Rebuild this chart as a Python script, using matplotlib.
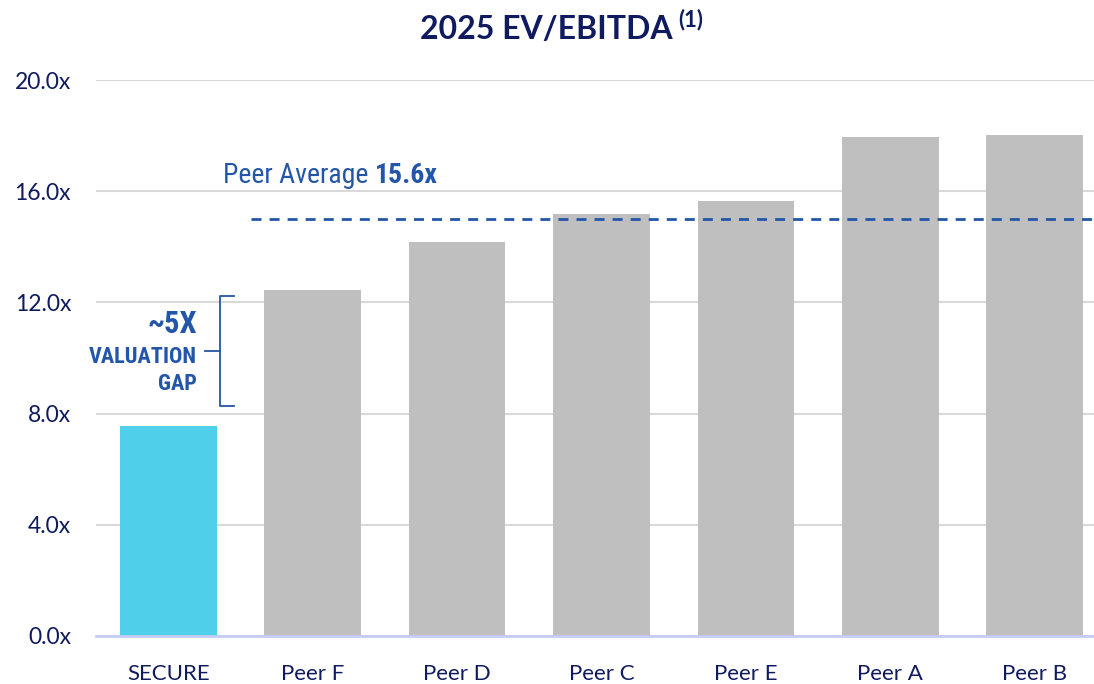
import os
import matplotlib.pyplot as plt
from matplotlib import font_manager
from matplotlib.font_manager import FontProperties

#Data
names = ["SECURE", "Peer F", "Peer D", "Peer C", "Peer E", "Peer A", "Peer B"]
multiples = [7.55, 12.45, 14.17, 15.18, 15.65, 17.95, 18.02]
avg_line = 15.0
avg_label = "15.6x"
gap_low = 8.27
gap_high = 12.23
yticks = [0, 4, 8, 12, 16, 20]

navy = "#0f1b5e"
blue = "#2356a8"
cyan = "#4fcfea"
grey = "#bfbfbf"

#Find a narrow font file if one is installed
files = [f.fname for f in font_manager.fontManager.ttflist]

def pick(options, fallback_weight):
    for opt in options:
        for fn in files:
            if os.path.basename(fn).lower().startswith(opt):
                return FontProperties(fname=fn)
    return FontProperties(family="DejaVu Sans", weight=fallback_weight)

narrow_bold = pick(["notosans-extracondensedbold.", "notosans-condensedbold.",
                    "robotocondensed-bold.", "dejavusanscondensed-bold.",
                    "liberationsansnarrow-bold."], "bold")
narrow_reg = pick(["notosans-extracondensedmedium.", "notosans-extracondensed.",
                   "notosans-condensedmedium.", "notosans-condensed.",
                   "robotocondensed-regular.", "dejavusanscondensed.",
                   "liberationsansnarrow-regular."], "normal")

fig = plt.figure(figsize=(10.94, 6.84), dpi=100)
ax = fig.add_axes([0.0878, 0.0702, 0.9122, 0.8128])

colors = [cyan] + [grey] * (len(names) - 1)
x = list(range(len(names)))
ax.bar(x, multiples, width=0.67, color=colors, zorder=3)

ax.set_xlim(-0.5, 6.41)
ax.set_ylim(0, 20)
ax.set_yticks(yticks)
ax.set_yticklabels([f"{v:.1f}x" for v in yticks], fontsize=16.5, color=navy, family="Lato")
ax.set_xticks(x)
ax.set_xticklabels(names, fontsize=16, color=navy, family="Lato")
ax.tick_params(axis="x", length=0, pad=20)
ax.tick_params(axis="y", length=0, pad=18)
ax.grid(axis="y", color="#d9d9d9", linewidth=1.5, zorder=0)
for s in ["top", "right", "left"]:
    ax.spines[s].set_visible(False)
ax.spines["bottom"].set_color("#c5ccf5")
ax.spines["bottom"].set_linewidth(2)
ax.spines["bottom"].set_zorder(4)

#Peer average line
ax.plot([0.57, 6.41], [avg_line, avg_line], color=blue, linestyle=(0, (3.6, 2.9)),
        linewidth=2, zorder=5, clip_on=False)
p1 = narrow_reg.copy()
p1.set_size(20)
t = ax.text(0.38, 16.67, "Peer Average ", fontproperties=p1, color=blue,
            ha="left", va="center_baseline")
fig.canvas.draw()
bb = t.get_window_extent()
xr = ax.transData.inverted().transform((bb.x1, bb.y0))[0]
p2 = narrow_bold.copy()
p2.set_size(20)
ax.text(xr, 16.67, avg_label, fontproperties=p2, color=blue,
        ha="left", va="center_baseline")

#Valuation gap bracket
bx = 0.355
ax.plot([bx + 0.1, bx, bx, bx + 0.1], [gap_high, gap_high, gap_low, gap_low],
        color=blue, linewidth=1.3, clip_on=False, zorder=5)
gap_mid = (gap_low + gap_high) / 2
ax.plot([bx - 0.1, bx], [gap_mid, gap_mid], color=blue, linewidth=1.3, zorder=5)
p3 = narrow_bold.copy()
p3.set_size(22)
ax.text(0.2, 11.33, "~5X", fontproperties=p3, color=blue, ha="right", va="center_baseline")
p4 = narrow_bold.copy()
p4.set_size(16)
ax.text(0.2, 10.14, "VALUATION", fontproperties=p4, color=blue, ha="right", va="center_baseline")
ax.text(0.2, 9.17, "GAP", fontproperties=p4, color=blue, ha="right", va="center_baseline")

#Title
fig.text(0.615, 0.96, "2025 EV/EBITDA", fontsize=23, color=navy,
         family="Lato", fontweight="bold", ha="right", va="center_baseline")
fig.text(0.62, 0.974, "(1)", fontsize=16, color=navy,
         family="Lato", fontweight="bold", ha="left", va="center_baseline")

fig.savefig("out.png", dpi=100)
